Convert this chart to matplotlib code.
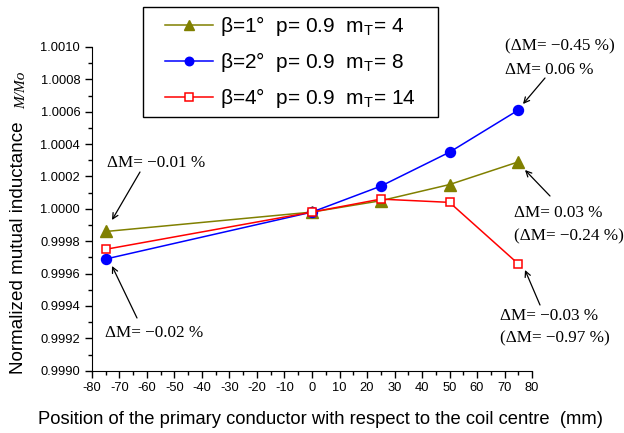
import matplotlib.pyplot as plt
from matplotlib.patches import Rectangle
from matplotlib.ticker import MultipleLocator, FormatStrFormatter

plt.rcParams["font.family"] = ["Liberation Sans", "DejaVu Sans"]
plt.rcParams["mathtext.default"] = "regular"
plt.rcParams["axes.unicode_minus"] = False

# data
positions = [-75, 0, 25, 50, 75]
m_beta1 = [0.99986, 0.99998, 1.00005, 1.00015, 1.00029]
m_beta2 = [0.99969, 0.99998, 1.00014, 1.00035, 1.00061]
m_beta4 = [0.99975, 0.99998, 1.00006, 1.00004, 0.99966]
labels = [
    "β=1°  p= 0.9  m$_T$= 4",
    "β=2°  p= 0.9  m$_T$= 8",
    "β=4°  p= 0.9  m$_T$= 14",
]

fig = plt.figure(figsize=(6.24, 4.33), dpi=100)
ax = fig.add_axes([0.1474, 0.1439, 0.7052, 0.7476])

l1, = ax.plot(positions, m_beta1, color="#808000", marker="^", ms=8, lw=1.1,
              clip_on=False)
l2, = ax.plot(positions, m_beta2, color="#0000ff", marker="o", ms=7.2, lw=1.1,
              clip_on=False)
l3, = ax.plot(positions, m_beta4, color="#ff0000", marker="s", ms=6.3, lw=1.1,
              mfc="white", mew=1.1, clip_on=False)

ax.set_xlim(-80, 80)
ax.set_ylim(0.9990, 1.0010)
ax.xaxis.set_major_locator(MultipleLocator(10))
ax.xaxis.set_minor_locator(MultipleLocator(5))
ax.yaxis.set_major_locator(MultipleLocator(0.0002))
ax.yaxis.set_minor_locator(MultipleLocator(0.0001))
ax.yaxis.set_major_formatter(FormatStrFormatter("%.4f"))
ax.spines["top"].set_visible(False)
ax.spines["right"].set_visible(False)
ax.tick_params(which="major", direction="out", length=5, width=1, labelsize=9.3)
ax.tick_params(which="minor", direction="out", length=3, width=1)

ax.set_xlabel("Position of the primary conductor with respect to the coil centre  (mm)",
              fontsize=13.2)
ax.xaxis.set_label_coords(0.519, -0.125)
fig.text(0.029, 0.428, "Normalized mutual inductance", rotation=90, fontsize=13.6,
         ha="center", va="center")
fig.text(0.034, 0.792, "M/Mo", rotation=90, fontsize=11, style="italic",
         family="Liberation Serif", ha="center", va="center")

# legend with a hand-drawn frame (wider side padding than top/bottom)
fig.legend([l1, l2, l3], labels, loc="upper left",
           bbox_to_anchor=(165 / 624, 1 - 14 / 433), bbox_transform=fig.transFigure,
           fontsize=15, handlelength=2.3, handletextpad=0.35, frameon=False,
           borderpad=0, borderaxespad=0, labelspacing=0.58, markerscale=0.85)
fig.patches.append(Rectangle((143 / 624, 1 - 117 / 433), 295 / 624, 110 / 433,
                             transform=fig.transFigure, fill=False,
                             edgecolor="black", lw=1))

serif = dict(family="Liberation Serif", fontsize=12.3)
arrow = dict(arrowstyle="->", color="black", lw=0.9, shrinkA=0, shrinkB=0)


def arr(x0, y0, x1, y1):
    ax.annotate("", xy=(x1 / 624, 1 - y1 / 433), xycoords="figure fraction",
                xytext=(x0 / 624, 1 - y0 / 433), textcoords="figure fraction",
                arrowprops=arrow, annotation_clip=False)


def txt(s, x, y):
    fig.text(x / 624, 1 - y / 433, s, ha="left", va="center", **serif)


txt("ΔM= −0.01 %", 107, 163)
arr(140, 172, 112, 220)
txt("ΔM= −0.02 %", 105, 333)
arr(137, 318, 112, 266)
txt("(ΔM= −0.45 %)", 505, 46)
txt("ΔM= 0.06 %", 505, 70)
arr(545, 78, 523, 104)
txt("ΔM= 0.03 %", 514, 213)
txt("(ΔM= −0.24 %)", 514, 236)
arr(550, 196, 525, 170)
txt("ΔM= −0.03 %", 500, 316)
txt("(ΔM= −0.97 %)", 500, 338)
arr(540, 305, 525, 270)

fig.savefig("out.png", dpi=100)
